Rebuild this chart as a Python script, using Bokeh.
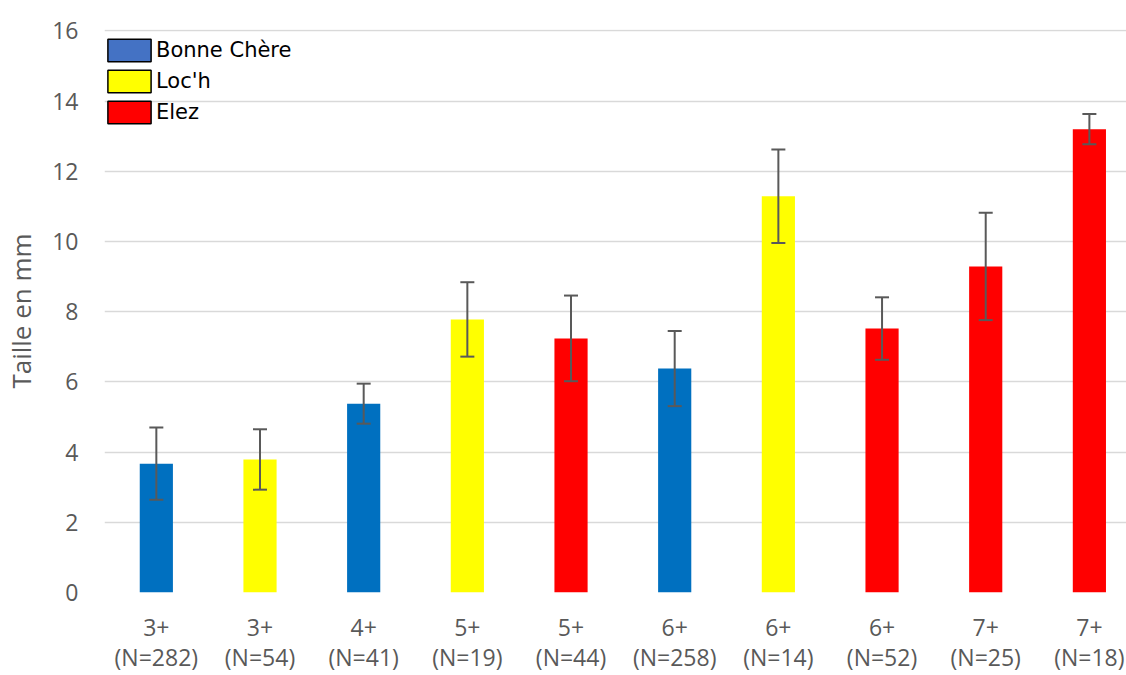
from bokeh.plotting import figure
from bokeh.models import (ColumnDataSource, Range1d, FixedTicker, LinearAxis,
                          Whisker, TeeHead, Legend, LegendItem)
from bokeh.embed import file_html
from bokeh.resources import INLINE

# ---- data ----
ages = ["3+", "3+", "4+", "5+", "5+", "6+", "6+", "6+", "7+", "7+"]
counts = ["(N=282)", "(N=54)", "(N=41)", "(N=19)", "(N=44)", "(N=258)", "(N=14)", "(N=52)", "(N=25)", "(N=18)"]
rivers = ["Bonne Chère", "Loc'h", "Bonne Chère", "Loc'h", "Elez", "Bonne Chère", "Loc'h", "Elez", "Elez", "Elez"]
values = [3.67, 3.79, 5.38, 7.78, 7.24, 6.38, 11.29, 7.52, 9.29, 13.20]
errors = [1.03, 0.86, 0.57, 1.06, 1.22, 1.07, 1.33, 0.89, 1.53, 0.43]

legend_names = ["Bonne Chère", "Loc'h", "Elez"]
bar_colors = {"Bonne Chère": "#0070C0", "Loc'h": "#FFFF00", "Elez": "#FF0000"}
legend_colors = {"Bonne Chère": "#4472C4", "Loc'h": "#FFFF00", "Elez": "#FF0000"}

xs = list(range(len(values)))
src = ColumnDataSource(dict(
    x=xs, top=values,
    color=[bar_colors[r] for r in rivers],
    upper=[v + e for v, e in zip(values, errors)],
    lower=[v - e for v, e in zip(values, errors)],
))

TICK_FONT = "Open Sans"
GREY = "#595959"

p = figure(width=1126, height=675, output_backend="svg", toolbar_location=None,
           x_range=Range1d(-0.5, 9.358), y_range=Range1d(0, 16.04),
           min_border_left=104, min_border_right=0, min_border_top=29, min_border_bottom=83,
           x_axis_location=None)
p.outline_line_color = None
p.background_fill_color = "white"

p.vbar(x="x", top="top", width=0.32, fill_color="color", line_color=None, source=src)

wh = Whisker(base="x", upper="upper", lower="lower", source=src, level="annotation",
             line_color=GREY, line_width=2,
             upper_head=TeeHead(size=14, line_color=GREY, line_width=2),
             lower_head=TeeHead(size=14, line_color=GREY, line_width=2))
p.add_layout(wh)

# grid
p.xgrid.grid_line_color = None
p.ygrid.grid_line_color = "#D9D9D9"
p.ygrid.grid_line_width = 1.4
p.ygrid.ticker = FixedTicker(ticks=list(range(0, 17, 2)))

# y axis
p.yaxis.ticker = FixedTicker(ticks=list(range(0, 17, 2)))
p.yaxis.axis_line_color = None
p.yaxis.major_tick_line_color = None
p.yaxis.minor_tick_line_color = None
p.yaxis.major_tick_out = 0
p.yaxis.major_tick_in = 0
p.yaxis.major_label_text_font = TICK_FONT
p.yaxis.major_label_text_font_size = "23px"
p.yaxis.major_label_text_color = GREY
p.yaxis.major_label_standoff = 26
p.yaxis.axis_label = "Taille en mm"
p.yaxis.axis_label_text_font = TICK_FONT
p.yaxis.axis_label_text_font_size = "26px"
p.yaxis.axis_label_text_font_style = "normal"
p.yaxis.axis_label_text_color = GREY
p.yaxis.axis_label_standoff = 10

# x axes (two rows of labels)
ax1 = LinearAxis(ticker=FixedTicker(ticks=xs),
                 major_label_overrides={i: a for i, a in zip(xs, ages)})
ax2 = LinearAxis(ticker=FixedTicker(ticks=xs),
                 major_label_overrides={i: c for i, c in zip(xs, counts)})
for ax, so in ((ax1, 26), (ax2, 2)):
    ax.axis_line_color = None
    ax.major_tick_line_color = None
    ax.minor_tick_line_color = None
    ax.major_tick_out = 0
    ax.major_tick_in = 0
    ax.major_label_text_font = TICK_FONT
    ax.major_label_text_font_size = "23px"
    ax.major_label_text_color = GREY
    ax.major_label_standoff = so
p.add_layout(ax1, "below")
p.add_layout(ax2, "below")

# legend (separate swatches with black border)
nan = float("nan")
items = []
for name in legend_names:
    r = p.vbar(x=[nan], top=[nan], width=0.3, fill_color=legend_colors[name],
               line_color="black", line_width=1.5)
    items.append(LegendItem(label=name, renderers=[r]))
legend = Legend(items=items, location=(-2, 466), padding=0, margin=0,
                glyph_width=54, glyph_height=28, spacing=3, label_standoff=0,
                label_height=28,
                label_text_font="DejaVu Sans", label_text_font_size="21px",
                label_text_color="black",
                border_line_color=None, background_fill_alpha=0)
p.add_layout(legend, "center")

open("out.html", "w").write(file_html(p, INLINE))
